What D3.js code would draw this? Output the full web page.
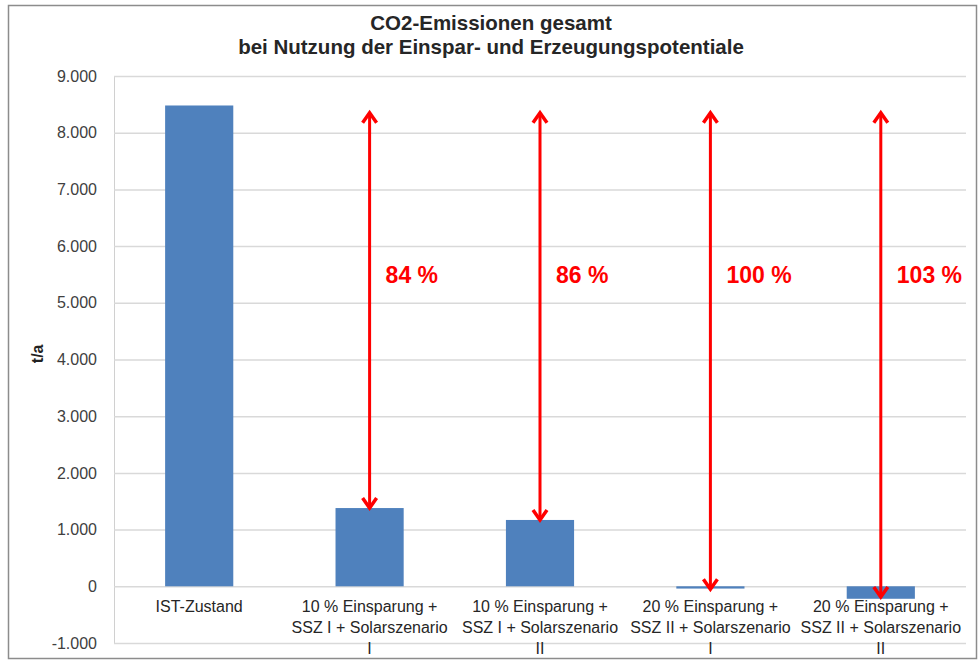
<!DOCTYPE html>
<html>
<head>
<meta charset="utf-8">
<script src="https://cdn.jsdelivr.net/npm/d3@7"></script>
<style>
  body { margin: 0; background: #fff; }
  text { font-family: "Liberation Sans", Arial, sans-serif; }
</style>
</head>
<body>
<script>
// data
var categories = [
  ["IST-Zustand"],
  ["10 % Einsparung +", "SSZ I + Solarszenario", "I"],
  ["10 % Einsparung +", "SSZ I + Solarszenario", "II"],
  ["20 % Einsparung +", "SSZ II + Solarszenario", "I"],
  ["20 % Einsparung +", "SSZ II + Solarszenario", "II"]
];
var emissions = [8480, 1380, 1170, -40, -220];
var arrowTop = 8350;
var arrowEnds = [null, 1380, 1170, -50, -190];
var savings = [null, "84 %", "86 %", "100 %", "103 %"];
var yTicks = [-1000, 0, 1000, 2000, 3000, 4000, 5000, 6000, 7000, 8000, 9000];

var width = 980, height = 664;
var margin = {left: 114, right: 14, top: 76, bottom: 21};

var svg = d3.select('body').append('svg')
  .attr('width', width).attr('height', height);

// outer frame
svg.append('rect')
  .attr('x', 8.5).attr('y', 5.5)
  .attr('width', 968).attr('height', 653)
  .attr('fill', 'none').attr('stroke', '#8c8c8c').attr('stroke-width', 1.5);

var x = d3.scaleBand()
  .domain(d3.range(categories.length))
  .range([margin.left, width - margin.right])
  .paddingInner(0.6).paddingOuter(0.3);

var y = d3.scaleLinear()
  .domain([-1000, 9000])
  .range([height - margin.bottom, margin.top]);

// german style: dot as thousands separator, plain hyphen for minus
var fmt = function(d) {
  return (d < 0 ? '-' : '') + d3.format(',')(Math.abs(d)).replace(/,/g, '.');
};

// gridlines + y axis labels
var yAxis = svg.append('g')
  .attr('transform', 'translate(' + margin.left + ',0)')
  .call(d3.axisLeft(y).tickValues(yTicks).tickFormat(fmt)
    .tickSize(-(width - margin.left - margin.right)).tickPadding(17));
yAxis.select('.domain').attr('stroke', '#d0d0d0');
yAxis.selectAll('.tick line').attr('stroke', '#d9d9d9').attr('stroke-width', 1.5);
yAxis.selectAll('.tick text')
  .attr('fill', '#404040').style('font-size', '16px');

svg.append('text')
  .attr('transform', 'translate(43,' + y(4100) + ') rotate(-90)')
  .attr('text-anchor', 'middle')
  .style('font-size', '16px').style('font-weight', 'bold')
  .attr('fill', '#222')
  .text('t/a');

// bars
svg.selectAll('rect.bar')
  .data(emissions)
  .enter()
  .append('rect')
  .attr('class', 'bar')
  .attr('x', function(d, i) { return x(i); })
  .attr('width', x.bandwidth())
  .attr('y', function(d) { return y(Math.max(0, d)); })
  .attr('height', function(d) { return Math.abs(y(d) - y(0)); })
  .attr('fill', '#4f81bd');

// category labels
var catG = svg.selectAll('text.cat')
  .data(categories)
  .enter()
  .append('text')
  .attr('class', 'cat')
  .attr('text-anchor', 'middle')
  .attr('fill', '#262626')
  .style('font-size', '16px')
  .attr('x', function(d, i) { return x(i) + x.bandwidth() / 2; })
  .attr('y', y(0) + 26);
catG.selectAll('tspan')
  .data(function(d) { return d; })
  .enter()
  .append('tspan')
  .attr('x', function() { return d3.select(this.parentNode).attr('x'); })
  .attr('dy', function(d, i) { return i === 0 ? 0 : 21; })
  .text(function(d) { return d; });

// red double arrows
var arrows = svg.selectAll('g.arrow')
  .data(arrowEnds.map(function(d, i) { return {end: d, i: i, label: savings[i]}; })
    .filter(function(d) { return d.end !== null; }))
  .enter()
  .append('g')
  .attr('class', 'arrow');

var cx = function(d) { return x(d.i) + x.bandwidth() / 2; };

arrows.append('line')
  .attr('x1', cx).attr('x2', cx)
  .attr('y1', y(arrowTop) + 2)
  .attr('y2', function(d) { return y(d.end) - 2; })
  .attr('stroke', '#ff0000').attr('stroke-width', 3);

arrows.append('path')
  .attr('d', function(d) {
    var c = cx(d), t = y(arrowTop);
    return 'M' + (c - 7) + ',' + (t + 10) + 'L' + c + ',' + t + 'L' + (c + 7) + ',' + (t + 10);
  })
  .attr('fill', 'none').attr('stroke', '#ff0000').attr('stroke-width', 3.5)
  .attr('stroke-linejoin', 'miter');

arrows.append('path')
  .attr('d', function(d) {
    var c = cx(d), b = y(d.end);
    return 'M' + (c - 7) + ',' + (b - 10) + 'L' + c + ',' + b + 'L' + (c + 7) + ',' + (b - 10);
  })
  .attr('fill', 'none').attr('stroke', '#ff0000').attr('stroke-width', 3.5)
  .attr('stroke-linejoin', 'miter');

arrows.append('text')
  .attr('x', function(d) { return cx(d) + 16; })
  .attr('y', y(5500))
  .attr('dy', '0.36em')
  .attr('fill', '#ff0000')
  .style('font-size', '23px').style('font-weight', 'bold')
  .text(function(d) { return d.label; });

// title
var title = svg.append('text')
  .attr('x', 491).attr('y', 30)
  .attr('text-anchor', 'middle')
  .attr('fill', '#262626')
  .style('font-size', '20.5px').style('font-weight', 'bold');
title.append('tspan').attr('x', 491).text('CO2-Emissionen gesamt');
title.append('tspan').attr('x', 491).attr('dy', 24).text('bei Nutzung der Einspar- und Erzeugungspotentiale');
</script>
</body>
</html>
